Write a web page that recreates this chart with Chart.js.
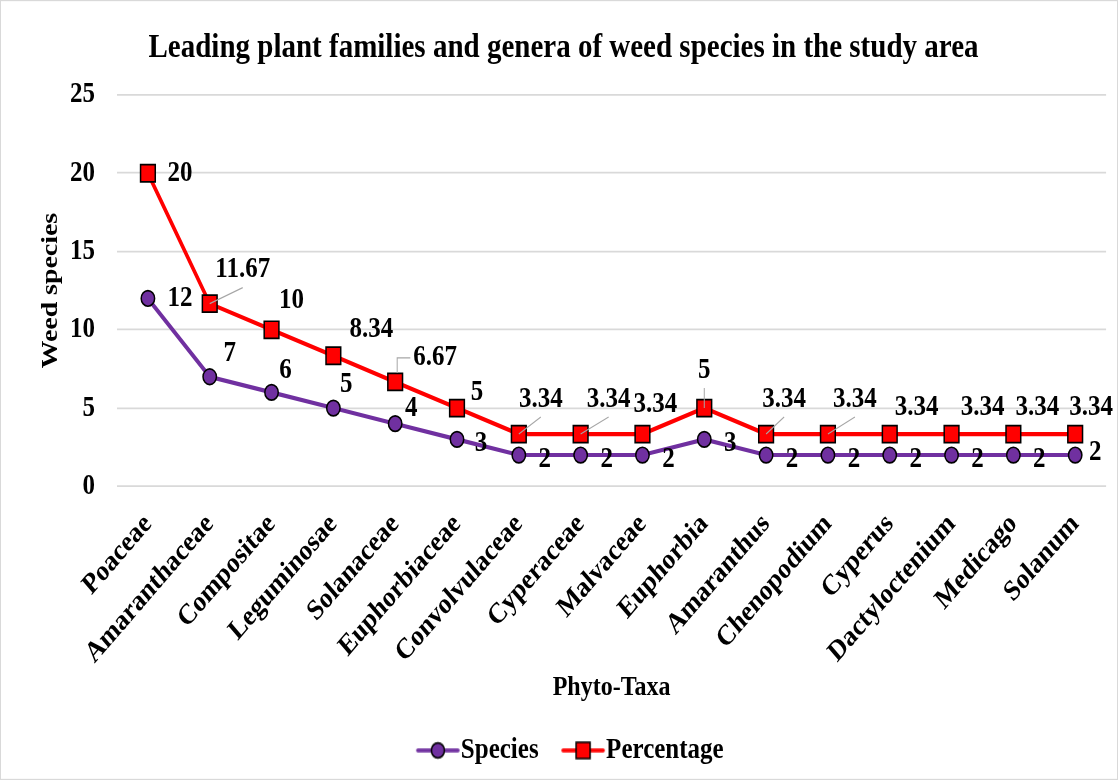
<!DOCTYPE html>
<html>
<head>
<meta charset="utf-8">
<script src="https://cdn.jsdelivr.net/npm/chart.js@4.4.1/dist/chart.umd.min.js"></script>
<style>
  html, body { margin: 0; padding: 0; background: #fff; }
  #wrap { width: 1118px; height: 780px; overflow: hidden; }
  canvas { display: block; }
</style>
</head>
<body>
<div id="wrap"><canvas id="taxaChart" width="1118" height="672"></canvas></div>
<script>
// data
const taxa = [
  "Poaceae", "Amaranthaceae", "Compositae", "Leguminosae", "Solanaceae",
  "Euphorbiaceae", "Convolvulaceae", "Cyperaceae", "Malvaceae", "Euphorbia",
  "Amaranthus", "Chenopodium", "Cyperus", "Dactyloctenium", "Medicago", "Solanum",
];
const species = [12, 7, 6, 5, 4, 3, 2, 2, 2, 3, 2, 2, 2, 2, 2, 2];
const percentage = [20, 11.67, 10, 8.34, 6.67, 5, 3.34, 3.34, 3.34, 5, 3.34, 3.34, 3.34, 3.34, 3.34, 3.34];
const yTicks = [0, 5, 10, 15, 20, 25];

// where each data label sits relative to its point (px, as seen in the picture)
const speciesLabelDx = [32, 20, 14, 13, 16, 24, 26, 26, 26, 26, 26, 26, 26, 26, 26, 20];
const speciesLabelDy = [0, -23, -22, -24, -15, 4, 4, 4, 4, 4, 4, 4, 4, 4, 4, -3];
const pctLabelDx = [32, 33, 20, 38, 40, 20, 22, 28, 13, 0, 18, 27, 27, 31, 24, 16];
const pctLabelDy = [0, -34, -29, -26, -24, -16, -35, -35, -30, -38, -35, -35, -27, -27, -27, -27];
// 0 = no leader line, 1 = straight line to under the label, 2 = elbow to the label's left
const pctLeader = [0, 1, 0, 0, 2, 0, 1, 1, 0, 1, 1, 1, 0, 0, 0, 0];

// the original is a little taller than wide in its lettering: draw at 672 high, stretch to 780
const STRETCH = 780 / 672;

const FONT = '"Liberation Serif", "Times New Roman", serif';
const PURPLE = "#7030a0";
const RED = "#ff0000";

// little "—o—" pictures for the legend (blank margin at the left keeps the items apart)
const legendIcon = (color, style) => {
  const c = document.createElement("canvas");
  c.width = 70;
  c.height = 20;
  const g = c.getContext("2d");
  g.strokeStyle = color;
  g.lineWidth = 3.6;
  g.lineCap = "round";
  g.beginPath();
  g.moveTo(27, 10);
  g.lineTo(67, 10);
  g.stroke();
  g.fillStyle = color;
  g.strokeStyle = "#000";
  g.lineWidth = 1.5;
  g.beginPath();
  if (style === "circle") {
    g.arc(47, 10, 6.5, 0, Math.PI * 2);
  } else {
    g.rect(40, 3, 14, 14);
  }
  g.fill();
  g.stroke();
  return c;
};
const legendIcons = [legendIcon(PURPLE, "circle"), legendIcon(RED, "rect")];

const labelSets = [
  { values: species, dx: speciesLabelDx, dy: speciesLabelDy, leader: null },
  { values: percentage, dx: pctLabelDx, dy: pctLabelDy, leader: pctLeader },
];

const pointLabels = {
  id: "pointLabels",
  afterDatasetsDraw(chart) {
    const ctx = chart.ctx;
    ctx.save();
    ctx.font = "bold 25px " + FONT;
    labelSets.forEach((set, di) => {
      const meta = chart.getDatasetMeta(di);
      meta.data.forEach((pt, j) => {
        const text = String(set.values[j]);
        const lx = pt.x + set.dx[j];
        const ly = pt.y + set.dy[j] / STRETCH;
        const kind = set.leader ? set.leader[j] : 0;
        if (kind) {
          ctx.strokeStyle = "#a6a6a6";
          ctx.lineWidth = 1;
          ctx.beginPath();
          if (kind === 1) {
            ctx.moveTo(pt.x, pt.y);
            ctx.lineTo(lx, ly + 18 / STRETCH);
          } else {
            const left = lx - ctx.measureText(text).width / 2 - 3;
            ctx.moveTo(pt.x + 2, pt.y - 9 / STRETCH);
            ctx.lineTo(pt.x + 2, ly);
            ctx.lineTo(left, ly);
          }
          ctx.stroke();
        }
        ctx.textAlign = "center";
        ctx.textBaseline = "middle";
        ctx.fillStyle = "#000";
        ctx.fillText(text, lx, ly);
      });
    });
    ctx.restore();
  },
};

const frame = {
  id: "frame",
  beforeDraw(chart) {
    const ctx = chart.ctx;
    ctx.save();
    ctx.fillStyle = "#fff";
    ctx.fillRect(0, 0, chart.width, chart.height);
    ctx.restore();
  },
  afterDraw(chart) {
    const ctx = chart.ctx;
    ctx.save();
    ctx.strokeStyle = "#d9d9d9";
    ctx.lineWidth = 1;
    ctx.strokeRect(0.5, 0.5, chart.width - 1, chart.height - 1);
    ctx.restore();
  },
};

const canvas = document.getElementById("taxaChart");
const chart = new Chart(canvas, {
  type: "line",
  data: {
    labels: taxa,
    datasets: [
      {
        label: "Species",
        data: species,
        borderColor: PURPLE,
        backgroundColor: PURPLE,
        borderWidth: 3.6,
        pointStyle: "circle",
        pointRadius: 6.7,
        pointBorderColor: "#000",
        pointBorderWidth: 1.5,
        pointBackgroundColor: PURPLE,
        tension: 0,
        clip: false,
      },
      {
        label: "Percentage",
        data: percentage,
        borderColor: RED,
        backgroundColor: RED,
        borderWidth: 3.6,
        pointStyle: "rect",
        pointRadius: 10.4,
        pointBorderColor: "#000",
        pointBorderWidth: 1.5,
        pointBackgroundColor: RED,
        tension: 0,
        clip: false,
      },
    ],
  },
  options: {
    responsive: false,
    devicePixelRatio: 1,
    animation: false,
    layout: { padding: { left: 20, right: 11, top: 0, bottom: 3 } },
    plugins: {
      title: {
        display: true,
        text: "Leading plant families and genera of weed species in the study area",
        color: "#000",
        font: { family: FONT, size: 29, weight: "bold" },
        padding: { top: 24, bottom: 23 },
      },
      legend: {
        position: "bottom",
        labels: {
          usePointStyle: true,
          pointStyleWidth: 45,
          padding: 10,
          color: "#000",
          font: { family: FONT, size: 25, weight: "bold" },
          generateLabels: (chart) =>
            Chart.defaults.plugins.legend.labels.generateLabels(chart).map((item, i) => ({
              ...item,
              pointStyle: legendIcons[i],
            })),
        },
      },
      tooltip: { enabled: false },
    },
    scales: {
      x: {
        offset: true,
        grid: { display: false, drawTicks: false },
        border: { display: false },
        ticks: {
          minRotation: 45,
          maxRotation: 45,
          autoSkip: false,
          padding: 18,
          color: "#000",
          font: { family: FONT, size: 25, weight: "bold" },
        },
        title: {
          display: true,
          text: "Phyto-Taxa",
          color: "#000",
          font: { family: FONT, size: 24, weight: "bold" },
          padding: { top: 0, bottom: 17 },
        },
        afterFit: (scale) => { scale.height = 205; },
      },
      y: {
        min: yTicks[0],
        max: yTicks[yTicks.length - 1],
        afterBuildTicks: (scale) => { scale.ticks = yTicks.map((v) => ({ value: v })); },
        grid: { color: "#d9d9d9", lineWidth: 1.5, drawTicks: false },
        border: { display: false },
        ticks: {
          padding: 22,
          color: "#000",
          font: { family: FONT, size: 25, weight: "bold" },
        },
        title: {
          display: true,
          text: "Weed species",
          color: "#000",
          font: { family: FONT, size: 24, weight: "bold" },
          padding: 16,
        },
        afterFit: (scale) => { scale.width = 97; },
      },
    },
  },
  plugins: [frame, pointLabels],
});

// redraw on a taller bitmap, stretched vertically
canvas.height = 780;
canvas.style.height = "780px";
chart.ctx.setTransform(1, 0, 0, STRETCH, 0, 0);
chart.draw();
</script>
</body>
</html>
